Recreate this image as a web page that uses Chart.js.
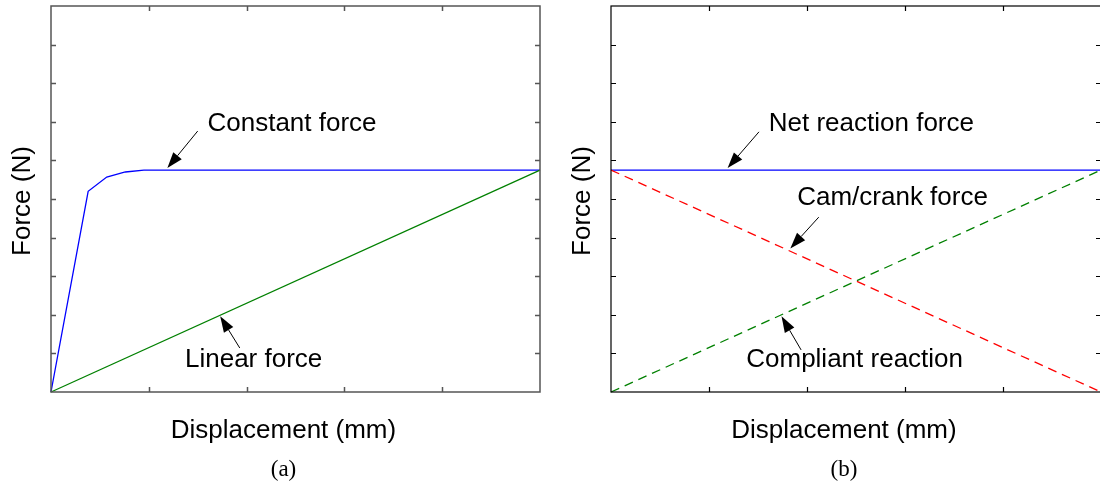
<!DOCTYPE html>
<html>
<head>
<meta charset="utf-8">
<script src="https://cdn.jsdelivr.net/npm/chart.js@4.4.1/dist/chart.umd.min.js"></script>
<style>
    body { margin: 0; background: #fff; width: 1100px; height: 488px; position: relative; overflow: hidden; }
    canvas { position: absolute; top: 0; }
    #chartA { left: 0; }
    #chartB { left: 550px; }
</style>
</head>
<body>
<canvas id="chartA" width="550" height="488"></canvas>
<canvas id="chartB" width="551" height="488"></canvas>
<script>
/* Axis ticks (unlabelled) */
const xTicks = [0, 1, 2, 3, 4, 5];
const yTicks = [0, 1, 2, 3, 4, 5, 6, 7, 8, 9, 10];

/* (a) constant force mechanism vs plain linear spring */
const constDisp = [0, 0.38, 0.57, 0.76, 0.95, 5];
const constForce = [0, 5.2, 5.57, 5.7, 5.75, 5.75];
const linearDisp = [0, 5];
const linearForce = [0, 5.75];

/* (b) force balance of the compliant mechanism */
const balanceDisp = [0, 5];
const netForce = [5.75, 5.75];
const camForce = [5.75, 0];
const compliantForce = [0, 5.75];

const FONT = '"Liberation Sans", Arial, sans-serif';
const SERIF = '"Liberation Serif", "Times New Roman", serif';

const pts = (xs, ys) => xs.map((x, i) => ({ x, y: ys[i] }));

/* Callouts in data units: label anchor (left/middle), arrow tail and tip */
const calloutsA = [
    { text: "Constant force", tx: 1.6, ty: 6.94, from: [1.5, 6.76], to: [1.19, 5.8] },
    { text: "Linear force", tx: 1.37, ty: 0.83, from: [1.93, 1.14], to: [1.73, 1.96] },
];
const calloutsB = [
    { text: "Net reaction force", tx: 1.61, ty: 6.94, from: [1.51, 6.74], to: [1.19, 5.8] },
    { text: "Cam/crank force", tx: 1.9, ty: 5.03, from: [2.12, 4.53], to: [1.83, 3.72] },
    { text: "Compliant reaction", tx: 1.38, ty: 0.83, from: [1.94, 1.09], to: [1.74, 1.96] },
];

function drawArrow(ctx, x0, y0, x1, y1) {
    const ang = Math.atan2(y1 - y0, x1 - x0);
    const len = 16, half = 5.5;
    const bx = x1 - len * Math.cos(ang), by = y1 - len * Math.sin(ang);
    ctx.strokeStyle = "#000";
    ctx.lineWidth = 1;
    ctx.beginPath();
    ctx.moveTo(x0, y0);
    ctx.lineTo(bx, by);
    ctx.stroke();
    ctx.fillStyle = "#000";
    ctx.beginPath();
    ctx.moveTo(x1, y1);
    ctx.lineTo(bx + half * Math.sin(ang), by - half * Math.cos(ang));
    ctx.lineTo(bx - half * Math.sin(ang), by + half * Math.cos(ang));
    ctx.closePath();
    ctx.fill();
}

/* Box frame with inward ticks on all four sides, callouts and titles */
const panelDecor = {
    id: "panelDecor",
    afterDatasetsDraw(chart, args, opts) {
        const { ctx, chartArea: { left, right, top, bottom }, scales: { x, y } } = chart;
        ctx.save();
        ctx.strokeStyle = opts.frameColor;
        ctx.lineWidth = opts.frameWidth;
        ctx.strokeRect(left, top, right - left, bottom - top);

        ctx.beginPath();
        xTicks.slice(1, -1).forEach(v => {
            const px = Math.round(x.getPixelForValue(v)) + 0.5;
            ctx.moveTo(px, bottom); ctx.lineTo(px, bottom - 5);
            ctx.moveTo(px, top); ctx.lineTo(px, top + 5);
        });
        yTicks.slice(1, -1).forEach(v => {
            const py = Math.round(y.getPixelForValue(v)) + 0.5;
            ctx.moveTo(left, py); ctx.lineTo(left + 5, py);
            ctx.moveTo(right, py); ctx.lineTo(right - 5, py);
        });
        ctx.stroke();

        ctx.fillStyle = "#000";
        ctx.font = `26px ${FONT}`;
        ctx.textBaseline = "middle";
        ctx.textAlign = "left";
        opts.callouts.forEach(c => {
            ctx.fillText(c.text, x.getPixelForValue(c.tx), y.getPixelForValue(c.ty));
            drawArrow(ctx,
                x.getPixelForValue(c.from[0]), y.getPixelForValue(c.from[1]),
                x.getPixelForValue(c.to[0]), y.getPixelForValue(c.to[1]));
        });

        const cx = (left + right) / 2 + opts.titleShift;
        ctx.textAlign = "center";
        ctx.fillStyle = "#000";
        ctx.fillText("Displacement (mm)", cx, bottom + 39);

        ctx.save();
        ctx.translate(left - 28, (top + bottom) / 2 + 2);
        ctx.rotate(-Math.PI / 2);
        ctx.fillText("Force (N)", 0, 0);
        ctx.restore();

        ctx.font = `23px ${SERIF}`;
        ctx.fillText(opts.caption, cx, bottom + 78);
        ctx.restore();
    },
};

function lineSet(data, color, dash) {
    return {
        data,
        borderColor: color,
        borderWidth: 1.3,
        borderDash: dash || [],
        pointRadius: 0,
        tension: 0,
        fill: false,
        clip: false,
    };
}

function baseOptions(padding, decor) {
    return {
        responsive: false,
        animation: false,
        layout: { padding },
        scales: {
            x: { type: "linear", min: 0, max: 5, display: false },
            y: { type: "linear", min: 0, max: 10, display: false },
        },
        plugins: {
            legend: { display: false },
            tooltip: { enabled: false },
            panelDecor: decor,
        },
    };
}

new Chart(document.getElementById("chartA"), {
    type: "line",
    data: {
        datasets: [
            lineSet(pts(linearDisp, linearForce), "#008000"),
            lineSet(pts(constDisp, constForce), "#0000ff"),
        ],
    },
    options: baseOptions(
        { left: 51, right: 10, top: 6, bottom: 96 },
        { frameColor: "#555", frameWidth: 1.5, callouts: calloutsA, caption: "(a)", titleShift: -12 }
    ),
    plugins: [panelDecor],
});

/* right edge of this panel sits just past the page edge */
new Chart(document.getElementById("chartB"), {
    type: "line",
    data: {
        datasets: [
            lineSet(pts(balanceDisp, camForce), "#ff0000", [9, 6]),
            lineSet(pts(balanceDisp, compliantForce), "#008000", [9, 6]),
            lineSet(pts(balanceDisp, netForce), "#0000ff"),
        ],
    },
    options: baseOptions(
        { left: 61, right: 0, top: 6, bottom: 96 },
        { frameColor: "#000", frameWidth: 1.2, callouts: calloutsB, caption: "(b)", titleShift: -12 }
    ),
    plugins: [panelDecor],
});
</script>
</body>
</html>
